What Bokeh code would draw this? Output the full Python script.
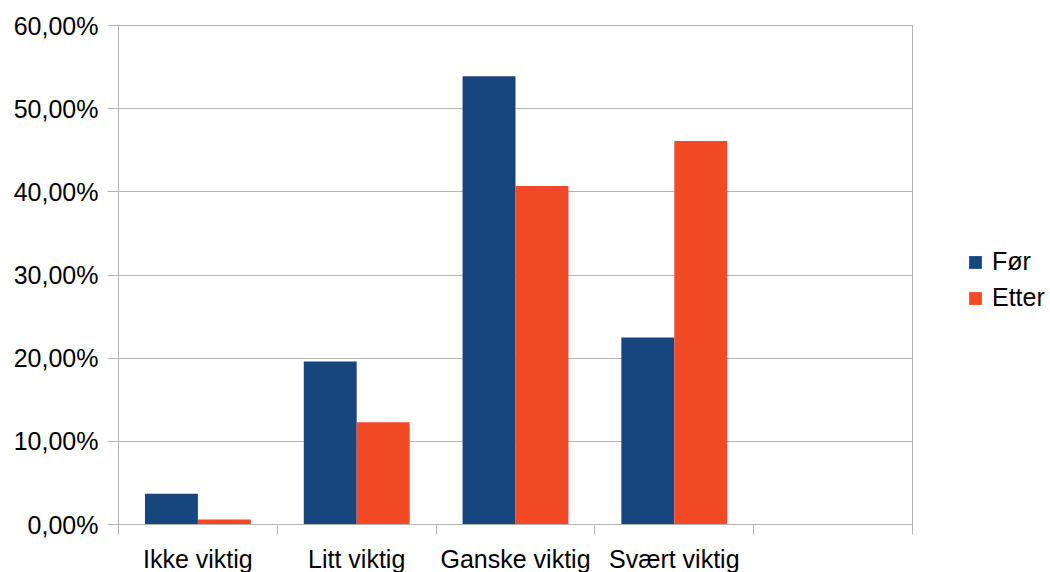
from bokeh.plotting import figure
from bokeh.models import (ColumnDataSource, FixedTicker, CustomJSTickFormatter,
                          Legend, LegendItem)
from bokeh.layouts import row
from bokeh.embed import file_html
from bokeh.resources import INLINE

# ---- data ----
categories = ["Ikke viktig", "Litt viktig", "Ganske viktig", "Svært viktig", ""]
series = ["Før", "Etter"]
for_vals = [3.7, 19.6, 53.9, 22.5]      # Før (%)
etter_vals = [0.6, 12.3, 40.7, 46.1]    # Etter (%)
y_ticks = [0, 10, 20, 30, 40, 50, 60]

FONT = "Liberation Sans"
GRID = "#b3b3b3"
BLUE = "#17457e"
ORANGE = "#f14a24"

n = len(categories)
bw = 1.0 / 3.0
idx = list(range(len(for_vals)))

src_for = ColumnDataSource(dict(x=[i + 0.5 - bw / 2 for i in idx], top=for_vals))
src_etter = ColumnDataSource(dict(x=[i + 0.5 + bw / 2 for i in idx], top=etter_vals))

p = figure(frame_width=794, frame_height=499, x_range=(0, n), y_range=(0, 60),
           output_backend="svg", toolbar_location=None,
           min_border_left=118, min_border_right=2,
           min_border_top=25, min_border_bottom=48)
p.background_fill_color = "white"
p.border_fill_color = "white"
p.outline_line_color = GRID

p.vbar(x="x", top="top", width=bw, bottom=0, source=src_for,
       fill_color=BLUE, line_color=None)
p.vbar(x="x", top="top", width=bw, bottom=0, source=src_etter,
       fill_color=ORANGE, line_color=None)

# y axis
ya = p.yaxis[0]
ya.ticker = FixedTicker(ticks=y_ticks)
ya.formatter = CustomJSTickFormatter(code="return tick.toFixed(2).replace('.', ',') + '%';")
ya.major_tick_out = 11
ya.major_tick_in = 0
ya.minor_tick_out = 0
ya.minor_tick_in = 0
ya.axis_line_color = GRID
ya.major_tick_line_color = GRID
ya.major_label_text_font = FONT
ya.major_label_text_font_size = "25px"
ya.major_label_text_color = "black"
ya.major_label_standoff = 9

# x axis: labels at category centres, tick marks at category boundaries
xa = p.xaxis[0]
xa.ticker = FixedTicker(ticks=[i + 0.5 for i in range(n)],
                        minor_ticks=list(range(n + 1)))
xa.formatter = CustomJSTickFormatter(args=dict(labels=categories),
                                     code="return labels[Math.floor(tick)] || '';")
xa.major_tick_out = 0
xa.major_tick_in = 0
xa.minor_tick_out = 10
xa.minor_tick_in = 0
xa.axis_line_color = GRID
xa.minor_tick_line_color = GRID
xa.major_label_text_font = FONT
xa.major_label_text_font_size = "25px"
xa.major_label_text_color = "black"
xa.major_label_standoff = 10

p.xgrid.visible = False
p.ygrid.grid_line_color = GRID
p.ygrid.ticker = FixedTicker(ticks=y_ticks)

# ---- legend panel (separate small figure to the right) ----
q = figure(width=136, height=572, x_range=(0, 136), y_range=(0, 572),
           output_backend="svg", toolbar_location=None,
           min_border=0, outline_line_color=None)
q.axis.visible = False
q.grid.visible = False
q.background_fill_color = "white"
q.border_fill_color = "white"
nan = float("nan")
d1 = q.vbar(x="x", top="top", width=1,
            source=ColumnDataSource(dict(x=[nan], top=[nan])),
            fill_color=BLUE, line_color=None)
d2 = q.vbar(x="x", top="top", width=1,
            source=ColumnDataSource(dict(x=[nan], top=[nan])),
            fill_color=ORANGE, line_color=None)
legend = Legend(items=[LegendItem(label=series[0], renderers=[d1]),
                       LegendItem(label=series[1], renderers=[d2])],
                location=(53, 209), glyph_width=16, glyph_height=16,
                label_text_font=FONT, label_text_font_size="25px",
                label_text_color="black",
                label_standoff=9, spacing=7, padding=0, margin=0,
                border_line_color=None, background_fill_alpha=0)
q.add_layout(legend)

open("out.html", "w").write(file_html(row(p, q), INLINE))
